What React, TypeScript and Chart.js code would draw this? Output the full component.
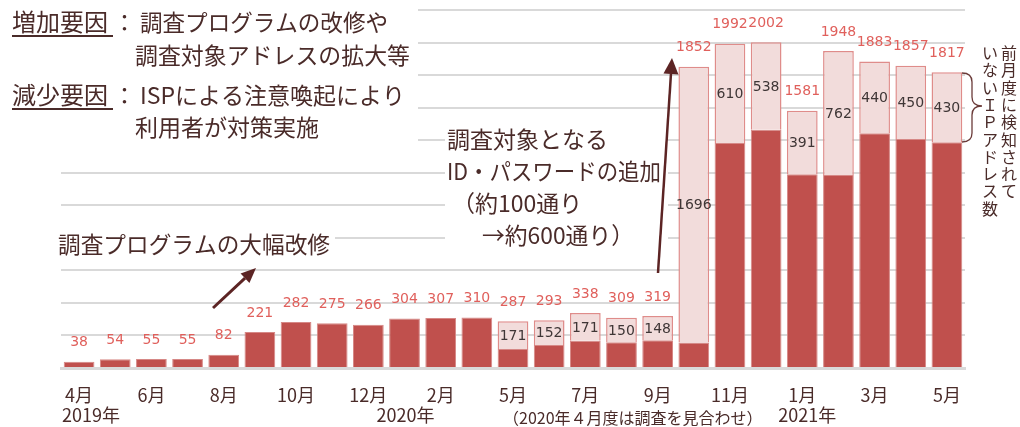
import React, { useEffect, useRef } from 'react';
import { Chart, registerables } from 'chart.js';

Chart.register(...registerables);

const FONT = '"Noto Sans CJK JP", "Noto Sans", sans-serif';
const NUMFONT = '"DejaVu Sans", Verdana, sans-serif';

// Months (2020年4月 was skipped)
const months = ['4月', '5月', '6月', '7月', '8月', '9月', '10月', '11月', '12月', '1月', '2月', '3月', '5月', '6月', '7月', '8月', '9月', '10月', '11月', '12月', '1月', '2月', '3月', '4月', '5月'];
const tickLabels = ['4月', '', '6月', '', '8月', '', '10月', '', '12月', '', '2月', '', '5月', '', '7月', '', '9月', '', '11月', '', '1月', '', '3月', '', '5月'];
const totals = [38, 54, 55, 55, 82, 221, 282, 275, 266, 304, 307, 310, 287, 293, 338, 309, 319, 1852, 1992, 2002, 1581, 1948, 1883, 1857, 1817];
const newAddrs: (number | null)[] = [null, null, null, null, null, null, null, null, null, null, null, null, 171, 152, 171, 150, 148, 1696, 610, 538, 391, 762, 440, 450, 430];
const yearLabels = [
  { index: 0, text: '2019年' },
  { index: 9, text: '2020年' },
  { index: 20, text: '2021年' },
];
const baseValues = totals.map((t, i) => t - (newAddrs[i] ?? 0));

const TEXT = '#4a2b29';
const ARROW = '#5c2424';

function drawArrow(ctx: CanvasRenderingContext2D, x1: number, y1: number, x2: number, y2: number, lw: number, hl: number, hw: number) {
  const a = Math.atan2(y2 - y1, x2 - x1);
  const bx = x2 - hl * Math.cos(a);
  const by = y2 - hl * Math.sin(a);
  ctx.save();
  ctx.strokeStyle = ARROW;
  ctx.fillStyle = ARROW;
  ctx.lineWidth = lw;
  ctx.beginPath();
  ctx.moveTo(x1, y1);
  ctx.lineTo(bx, by);
  ctx.stroke();
  ctx.beginPath();
  ctx.moveTo(x2, y2);
  ctx.lineTo(bx + (hw / 2) * Math.sin(a), by - (hw / 2) * Math.cos(a));
  ctx.lineTo(bx - (hw / 2) * Math.sin(a), by + (hw / 2) * Math.cos(a));
  ctx.closePath();
  ctx.fill();
  ctx.restore();
}

const annotPlugin = {
  id: 'annot',
  beforeDatasetsDraw(chart: any) {
    const ctx = chart.ctx as CanvasRenderingContext2D;
    ctx.save();
    ctx.fillStyle = '#ffffff';
    ctx.fillRect(0, 0, 418, 150);
    ctx.fillRect(50, 226, 285, 26);
    ctx.fillRect(445, 124, 223, 128);
    ctx.restore();
  },
  afterDatasetsDraw(chart: any) {
    const ctx = chart.ctx as CanvasRenderingContext2D;
    const baseMeta = chart.getDatasetMeta(0);
    const newMeta = chart.getDatasetMeta(1);
    ctx.save();
    ctx.textAlign = 'center';
    ctx.textBaseline = 'middle';
    totals.forEach((t, i) => {
      const hasNew = newAddrs[i] != null;
      const top = hasNew ? newMeta.data[i] : baseMeta.data[i];
      ctx.font = `14px ${NUMFONT}`;
      ctx.fillStyle = '#e0605c';
      ctx.fillText(String(t), top.x, top.y - 19);
      if (hasNew) {
        const el = newMeta.data[i];
        ctx.fillStyle = '#3f3636';
        ctx.fillText(String(newAddrs[i]), el.x, (el.y + el.base) / 2 + 1);
      }
    });
    ctx.restore();
  },
  afterDraw(chart: any) {
    const ctx = chart.ctx as CanvasRenderingContext2D;
    const xs = chart.scales.x;
    ctx.save();
    ctx.fillStyle = TEXT;
    ctx.textBaseline = 'middle';
    ctx.textAlign = 'left';

    // year labels
    ctx.font = `18px ${FONT}`;
    yearLabels.forEach((y) => {
      const px = xs.getPixelForValue(y.index);
      if (y.index === 0) {
        ctx.textAlign = 'left';
        ctx.fillText(y.text, px - 17, 415);
      } else {
        ctx.textAlign = 'center';
        ctx.fillText(y.text, px + (y.index === 20 ? 5 : 1), 415);
      }
    });
    ctx.textAlign = 'left';
    ctx.font = `16px ${FONT}`;
    ctx.fillText('（2020年４月度は調査を見合わせ）', xs.getPixelForValue(12) - 10, 418);

    // top-left explanation
    ctx.font = `24px ${FONT}`;
    ctx.fillText('増加要因', 12, 22);
    ctx.fillText('減少要因', 12, 95);
    ctx.font = `23px ${FONT}`;
    ctx.fillText('：', 113, 22);
    ctx.fillText('調査プログラムの改修や', 140, 22, 248);
    ctx.fillText('調査対象アドレスの拡大等', 135, 55, 275);
    ctx.fillText('：', 113, 95);
    ctx.fillText('ISPによる注意喚起により', 140, 95, 265);
    ctx.fillText('利用者が対策実施', 135, 127);
    ctx.strokeStyle = TEXT;
    ctx.lineWidth = 2;
    ctx.beginPath();
    ctx.moveTo(12, 36);
    ctx.lineTo(113, 36);
    ctx.moveTo(12, 109);
    ctx.lineTo(113, 109);
    ctx.stroke();

    // middle annotations
    ctx.fillText('調査プログラムの大幅改修', 58, 244, 272);
    ctx.fillText('調査対象となる', 447, 139, 161);
    ctx.fillText('ID・パスワードの追加', 447, 171, 214);
    ctx.fillText('（約100通り', 452, 203, 135);
    ctx.fillText('→約600通り）', 482, 235, 152);

    drawArrow(ctx, 213, 308, 256, 268, 3, 15, 13);
    drawArrow(ctx, 658, 273, 672, 58, 2.5, 16, 15);

    // brace
    ctx.strokeStyle = '#6b3b39';
    ctx.lineWidth = 1.3;
    ctx.beginPath();
    ctx.moveTo(962, 73);
    ctx.quadraticCurveTo(972, 73, 972, 82);
    ctx.lineTo(972, 97);
    ctx.quadraticCurveTo(972, 106, 982, 106);
    ctx.quadraticCurveTo(972, 106, 972, 115);
    ctx.lineTo(972, 133);
    ctx.quadraticCurveTo(972, 142, 962, 142);
    ctx.stroke();

    // vertical text
    ctx.font = `16px ${FONT}`;
    ctx.textAlign = 'center';
    const col1 = '前月度に検知されて';
    const col2 = 'いないＩＰアドレス数';
    Array.from(col1).forEach((c, i) => ctx.fillText(c, 1009, 53 + i * 17.3));
    Array.from(col2).forEach((c, i) => ctx.fillText(c, 990, 53 + i * 17.3));
    ctx.restore();
  },
};

export default function App() {
  const ref = useRef<HTMLCanvasElement>(null);
  useEffect(() => {
    document.body.style.margin = '0';
    const chart = new Chart(ref.current as HTMLCanvasElement, {
      type: 'bar',
      data: {
        labels: months,
        datasets: [
          {
            data: baseValues,
            backgroundColor: '#c0504d',
            borderColor: '#d68886',
            borderWidth: 1,
            borderSkipped: 'bottom',
            barPercentage: 0.85,
            categoryPercentage: 1,
          },
          {
            data: newAddrs,
            backgroundColor: '#f2dcdb',
            borderColor: '#df8c8a',
            borderWidth: 1.5,
            borderSkipped: 'bottom',
            barPercentage: 0.85,
            categoryPercentage: 1,
          },
        ],
      },
      options: {
        animation: false,
        responsive: false,
        maintainAspectRatio: false,
        layout: { padding: { left: 61, right: 55, top: 10, bottom: 0 } },
        plugins: { legend: { display: false }, tooltip: { enabled: false } },
        scales: {
          x: {
            stacked: true,
            grid: { display: false, drawTicks: false },
            border: { display: true, color: '#d9d9d9', width: 3 },
            ticks: {
              autoSkip: false,
              maxRotation: 0,
              padding: 16,
              color: TEXT,
              font: { family: FONT, size: 18 },
              callback: (_v: any, i: number) => tickLabels[i],
            },
            afterFit: (s: any) => {
              s.height = 59;
            },
          },
          y: {
            stacked: true,
            min: 0,
            max: 2200,
            ticks: { display: false, stepSize: 200 },
            grid: { color: '#d9d9d9', lineWidth: 2, drawTicks: false },
            border: { display: false },
            afterFit: (s: any) => {
              s.width = 0;
            },
          },
        },
      } as any,
      plugins: [annotPlugin],
    });
    return () => chart.destroy();
  }, []);
  return (
    <div style={{ position: 'absolute', left: 0, top: 0, width: 1020, height: 427, background: '#fff' }}>
      <canvas ref={ref} width={1020} height={427} style={{ display: 'block' }} />
    </div>
  );
}
